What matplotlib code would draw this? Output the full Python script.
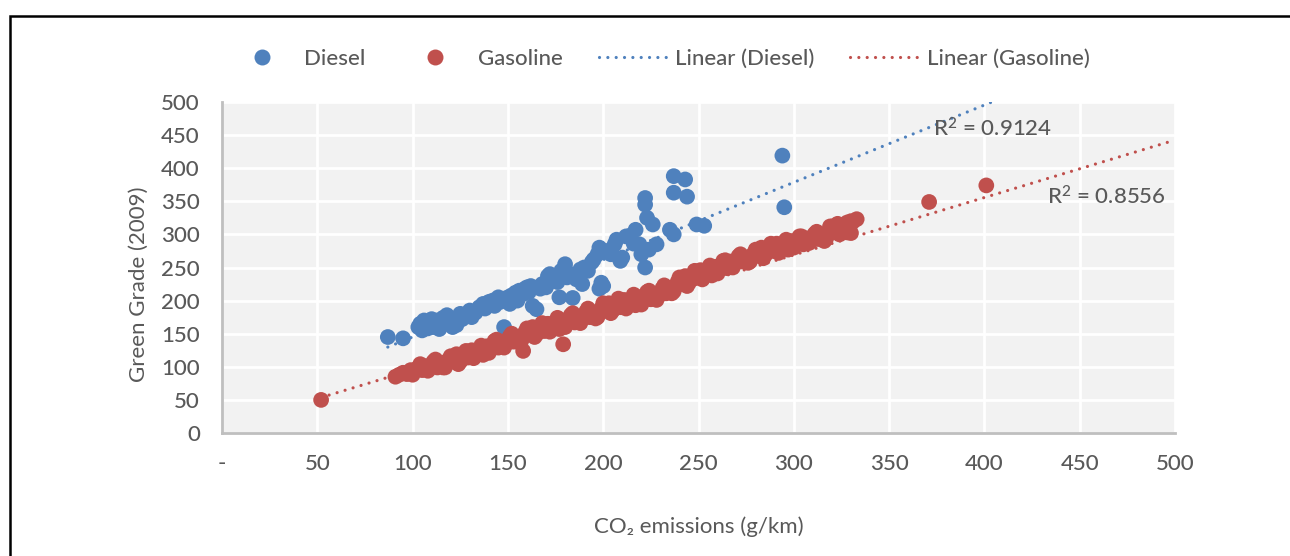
import matplotlib
matplotlib.use("Agg")
import matplotlib.pyplot as plt
from matplotlib.lines import Line2D
from matplotlib.patches import Rectangle

plt.rcParams['font.family'] = ['Lato', 'DejaVu Sans']
plt.rcParams['font.weight'] = 'medium'
plt.rcParams['mathtext.fontset'] = 'custom'
plt.rcParams['mathtext.rm'] = 'Lato'
plt.rcParams['mathtext.it'] = 'Lato:italic'
plt.rcParams['mathtext.bf'] = 'Lato:bold'
plt.rcParams['mathtext.default'] = 'regular'

# ---------------- data ----------------
diesel_x = [87, 95, 103, 104, 105, 106, 107, 108, 109, 110, 111, 112, 113, 114, 115, 116,
            118, 119, 120, 121, 123, 124, 125, 126, 128, 130, 131, 133, 135, 137, 138, 140,
            142, 143, 145, 146, 148, 148, 150, 151, 152, 154, 155, 156, 158, 159, 160, 161,
            162, 163, 165, 167, 168, 170, 171, 172, 174, 176, 177, 178, 180, 181, 183, 184,
            186, 188, 189, 190, 192, 194, 195, 197, 198, 198, 199, 200, 202, 204, 206, 207,
            209, 210, 212, 214, 216, 217, 219, 220, 222, 222, 222, 223, 224, 226, 228, 235,
            237, 237, 243, 237, 244, 249, 253, 294, 295]
diesel_y = [145, 143, 160, 165, 155, 170, 162, 158, 168, 172, 160, 165, 170, 157, 167, 174,
            178, 165, 170, 160, 163, 175, 180, 172, 178, 185, 175, 182, 190, 195, 188, 198,
            200, 192, 205, 198, 202, 160, 205, 195, 208, 212, 200, 215, 210, 218, 220, 213,
            222, 192, 187, 218, 225, 220, 237, 240, 230, 228, 205, 245, 255, 235, 240, 204,
            232, 247, 225, 250, 245, 258, 262, 270, 280, 218, 227, 222, 275, 270, 285, 292,
            260, 265, 297, 298, 286, 307, 285, 270, 250, 355, 345, 325, 277, 315, 285, 307,
            300, 388, 383, 363, 357, 315, 313, 419, 341]

gasoline_x = [52, 91, 93, 95, 97, 99, 101, 103, 105, 107, 109, 111, 113, 115, 117, 119, 121,
              123, 125, 127, 129, 131, 133, 135, 137, 139, 141, 143, 145, 147, 149, 151, 153,
              155, 157, 158, 159, 161, 163, 165, 167, 169, 171, 173, 175, 177, 179, 179, 181,
              183, 185, 187, 189, 191, 193, 195, 197, 199, 201, 203, 205, 207, 209, 211, 213,
              215, 217, 219, 221, 223, 225, 227, 229, 231, 233, 235, 237, 239, 241, 243, 245,
              247, 249, 251, 253, 255, 257, 259, 261, 263, 265, 267, 269, 271, 273, 275, 277,
              279, 281, 283, 285, 287, 289, 291, 293, 295, 297, 299, 301, 303, 305, 307, 309,
              311, 313, 315, 316, 317, 319, 319, 321, 323, 324, 325, 327, 328, 329, 330, 330,
              331, 333, 371, 401,
              100, 104, 108, 112, 116, 120, 124, 128, 132, 136, 140, 144, 148, 152, 156, 160,
              164, 168, 172, 176, 180, 184, 188, 192, 196, 200, 204, 208, 212, 216, 220, 224,
              228, 232, 236, 240, 244, 248, 252, 256, 260, 264, 268, 272, 276, 280, 284, 288,
              292, 296, 300, 304, 308, 312, 316, 320, 324, 328]
gasoline_y = [50, 85, 88, 91, 89, 95, 94, 99, 95, 101, 98, 108, 99, 106, 99, 111, 108,
              119, 108, 117, 114, 125, 117, 124, 118, 131, 128, 139, 129, 138, 135, 146, 138,
              145, 139, 124, 152, 149, 160, 149, 157, 154, 165, 157, 164, 157, 170, 134, 167,
              178, 167, 175, 172, 183, 175, 182, 175, 188, 185, 196, 185, 193, 190, 201, 193,
              199, 193, 205, 202, 213, 202, 210, 207, 218, 211, 219, 214, 228, 225, 237, 227,
              237, 235, 246, 238, 244, 238, 251, 248, 260, 249, 259, 256, 267, 259, 265, 259,
              271, 268, 280, 269, 278, 275, 286, 278, 284, 277, 290, 286, 297, 285, 294, 290,
              301, 293, 300, 290, 294, 307, 312, 305, 316, 310, 305, 313, 303, 309, 302, 320,
              319, 323, 349, 374,
              88, 104, 94, 111, 99, 116, 104, 124, 113, 132, 121, 141, 129, 150, 137, 158,
              145, 166, 153, 174, 160, 181, 166, 188, 173, 196, 181, 203, 188, 209, 194, 215,
              201, 223, 211, 235, 222, 245, 232, 253, 241, 261, 250, 270, 257, 277, 264, 286,
              272, 292, 280, 297, 287, 304, 295, 312, 300, 318]

# trendlines (slope, intercept, start x) and R² labels
diesel_trend = (1.168, 28.2, 87)
gasoline_trend = (0.868, 8.5, 52)
r2_labels = ["R$^2$ = 0.9124", "R$^2$ = 0.8556"]

x_ticks = [0, 50, 100, 150, 200, 250, 300, 350, 400, 450, 500]
x_tick_labels = ['-', '50', '100', '150', '200', '250', '300', '350', '400', '450', '500']
y_ticks = [0, 50, 100, 150, 200, 250, 300, 350, 400, 450, 500]

# ---------------- style ----------------
BLUE = '#4F81BD'
RED = '#C0504D'
TXT = '#595959'
FS = 16

W, H = 1290, 556
fig = plt.figure(figsize=(W / 100, H / 100), dpi=100)
fig.patch.set_facecolor('white')

# outer frame (top and left edges visible)
fig.add_artist(Rectangle((10 / W, -0.5), 2.0, 1 - 16 / H + 0.5, transform=fig.transFigure,
                         fill=False, edgecolor='black', linewidth=1.8))

ax = fig.add_axes([222 / W, 1 - 433 / H, (1175 - 222) / W, (433 - 102) / H])
ax.set_facecolor('#F2F2F2')
ax.set_xlim(0, 500)
ax.set_ylim(0, 500)
ax.set_xticks(x_ticks)
ax.set_xticklabels(x_tick_labels)
ax.set_yticks(y_ticks)
ax.grid(True, color='white', linewidth=2)
ax.set_axisbelow(True)
for s in ['top', 'right']:
    ax.spines[s].set_visible(False)
for s in ['left', 'bottom']:
    ax.spines[s].set_color('#BFBFBF')
    ax.spines[s].set_linewidth(2)
ax.tick_params(axis='both', length=0, labelsize=FS, labelcolor=TXT)
ax.tick_params(axis='y', pad=16)
ax.tick_params(axis='x', pad=15)

ms_area = 128
ax.scatter(diesel_x, diesel_y, s=ms_area, color=BLUE, edgecolors='none', zorder=3)
ax.scatter(gasoline_x, gasoline_y, s=ms_area, color=RED, edgecolors='none', zorder=3)

dot_style = (0, (0.01, 2.6))
for (m, b, x0), col in [(diesel_trend, BLUE), (gasoline_trend, RED)]:
    xs = [x0, 500]
    ys = [m * v + b for v in xs]
    ax.plot(xs, ys, color=col, linewidth=2.3, linestyle=dot_style,
            dash_capstyle='round', zorder=4)

ax.text(373, 459, r2_labels[0], fontsize=FS, color=TXT, va='center', ha='left', zorder=5)
ax.text(433, 357, r2_labels[1], fontsize=FS, color=TXT, va='center', ha='left', zorder=5)

ax.set_ylabel('Green Grade (2009)', fontsize=FS, color=TXT)
ax.yaxis.set_label_coords(-0.077, 0.45)
ax.set_xlabel('CO\u2082 emissions (g/km)', fontsize=FS, color=TXT, labelpad=31)

handles = [
    Line2D([], [], marker='o', linestyle='none', markersize=11.5, color=BLUE, markeredgewidth=0),
    Line2D([], [], marker='o', linestyle='none', markersize=11.5, color=RED, markeredgewidth=0),
    Line2D([], [], color=BLUE, linewidth=2.3, linestyle=dot_style, dash_capstyle='round'),
    Line2D([], [], color=RED, linewidth=2.3, linestyle=dot_style, dash_capstyle='round'),
]
labels = ['Diesel', 'Gasoline', 'Linear (Diesel)', 'Linear (Gasoline)']
leg = fig.legend(handles, labels, loc='center left', bbox_to_anchor=(228 / W, 1 - 59 / H),
                 ncol=4, frameon=False, fontsize=FS, handlelength=3.05, handletextpad=0.38,
                 columnspacing=1.62, borderpad=0, borderaxespad=0)
for t in leg.get_texts():
    t.set_color(TXT)

fig.savefig('out.png', dpi=100)
